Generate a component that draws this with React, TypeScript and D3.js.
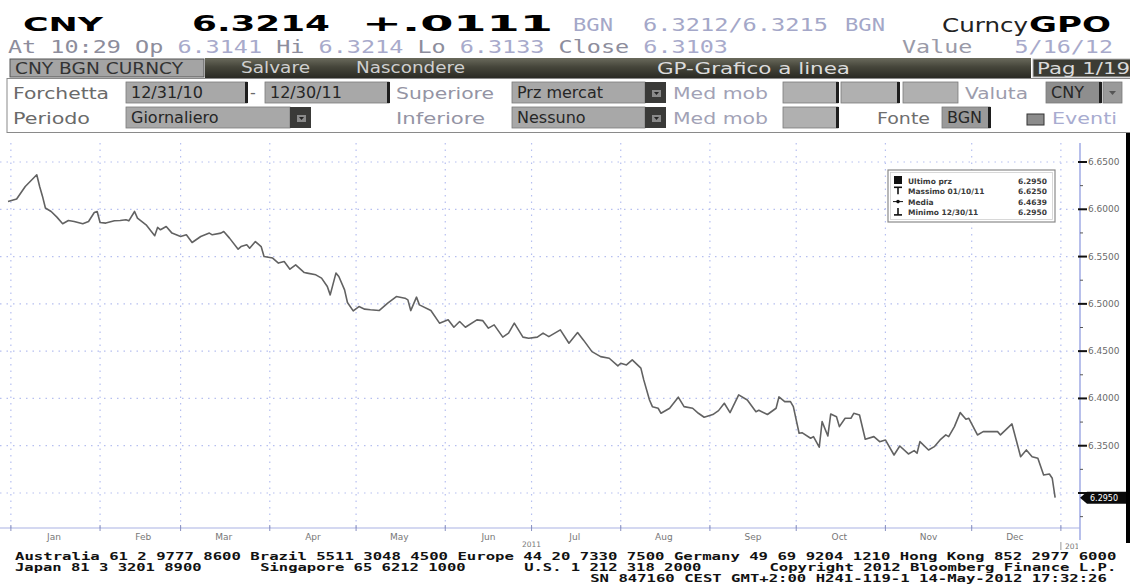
import React from 'react';
import * as d3 from 'd3';

// CNY daily close, 12/31/10 - 12/30/11
const dates = [
  '2010-12-31', '2011-01-03', '2011-01-06', '2011-01-10', '2011-01-11', '2011-01-12', '2011-01-13', '2011-01-15',
  '2011-01-17', '2011-01-19', '2011-01-21', '2011-01-23', '2011-01-26', '2011-01-28', '2011-01-30', '2011-01-31',
  '2011-02-01', '2011-02-03', '2011-02-06', '2011-02-08', '2011-02-10', '2011-02-11', '2011-02-13', '2011-02-14',
  '2011-02-17', '2011-02-20', '2011-02-21', '2011-02-22', '2011-02-24', '2011-02-26', '2011-03-01', '2011-03-03',
  '2011-03-05', '2011-03-08', '2011-03-11', '2011-03-12', '2011-03-15', '2011-03-16', '2011-03-18', '2011-03-21',
  '2011-03-22', '2011-03-24', '2011-03-25', '2011-03-27', '2011-03-29', '2011-03-30', '2011-04-02', '2011-04-04',
  '2011-04-06', '2011-04-08', '2011-04-10', '2011-04-13', '2011-04-14', '2011-04-17', '2011-04-19', '2011-04-21',
  '2011-04-22', '2011-04-24', '2011-04-25', '2011-04-27', '2011-04-28', '2011-04-30', '2011-05-02', '2011-05-04',
  '2011-05-06', '2011-05-09', '2011-05-12', '2011-05-15', '2011-05-18', '2011-05-19', '2011-05-20', '2011-05-22',
  '2011-05-23', '2011-05-27', '2011-05-30', '2011-06-02', '2011-06-04', '2011-06-06', '2011-06-08', '2011-06-12',
  '2011-06-14', '2011-06-16', '2011-06-18', '2011-06-21', '2011-06-23', '2011-06-25', '2011-06-28', '2011-06-30',
  '2011-07-03', '2011-07-05', '2011-07-07', '2011-07-11', '2011-07-14', '2011-07-17', '2011-07-19', '2011-07-22',
  '2011-07-25', '2011-07-28', '2011-07-31', '2011-08-01', '2011-08-03', '2011-08-05', '2011-08-08', '2011-08-09',
  '2011-08-11', '2011-08-12', '2011-08-14', '2011-08-15', '2011-08-18', '2011-08-21', '2011-08-23', '2011-08-26',
  '2011-08-28', '2011-08-30', '2011-09-02', '2011-09-04', '2011-09-06', '2011-09-08', '2011-09-11', '2011-09-14',
  '2011-09-17', '2011-09-18', '2011-09-21', '2011-09-24', '2011-09-25', '2011-09-27', '2011-09-29', '2011-09-30',
  '2011-10-02', '2011-10-03', '2011-10-06', '2011-10-07', '2011-10-09', '2011-10-10', '2011-10-12', '2011-10-13',
  '2011-10-15', '2011-10-16', '2011-10-18', '2011-10-20', '2011-10-21', '2011-10-23', '2011-10-25', '2011-10-28',
  '2011-10-30', '2011-11-01', '2011-11-04', '2011-11-06', '2011-11-09', '2011-11-11', '2011-11-12', '2011-11-13',
  '2011-11-16', '2011-11-18', '2011-11-20', '2011-11-22', '2011-11-23', '2011-11-25', '2011-11-27', '2011-11-29',
  '2011-11-30', '2011-12-03', '2011-12-05', '2011-12-07', '2011-12-10', '2011-12-11', '2011-12-14', '2011-12-15',
  '2011-12-18', '2011-12-20', '2011-12-22', '2011-12-24', '2011-12-26', '2011-12-28', '2011-12-29', '2011-12-30',
];

const prices = [
  6.6083, 6.6108, 6.6241, 6.6365, 6.6241, 6.6136, 6.6013, 6.5977,
  6.5917, 6.5847, 6.5882, 6.5871, 6.5847, 6.5871, 6.5966, 6.5977,
  6.5860, 6.5854, 6.5878, 6.5882, 6.5889, 6.5878, 6.5977, 6.5907,
  6.5836, 6.5720, 6.5808, 6.5783, 6.5818, 6.5748, 6.5712, 6.5730,
  6.5649, 6.5712, 6.5748, 6.5730, 6.5748, 6.5765, 6.5695, 6.5578,
  6.5606, 6.5624, 6.5589, 6.5659, 6.5606, 6.5501, 6.5484, 6.5431,
  6.5448, 6.5367, 6.5413, 6.5331, 6.5325, 6.5307, 6.5272, 6.5183,
  6.5095, 6.5325, 6.5289, 6.5148, 6.5014, 6.4926, 6.4971, 6.4944,
  6.4937, 6.4929, 6.5007, 6.5077, 6.5060, 6.5042, 6.4929, 6.5071,
  6.4989, 6.4929, 6.4796, 6.4831, 6.4753, 6.4813, 6.4753, 6.4831,
  6.4823, 6.4743, 6.4778, 6.4648, 6.4690, 6.4796, 6.4648, 6.4637,
  6.4648, 6.4690, 6.4654, 6.4725, 6.4584, 6.4696, 6.4619, 6.4495,
  6.4442, 6.4425, 6.4344, 6.4372, 6.4354, 6.4407, 6.4320, 6.4196,
  6.3984, 6.3913, 6.3896, 6.3843, 6.3896, 6.4013, 6.3913, 6.3896,
  6.3843, 6.3801, 6.3829, 6.3871, 6.3949, 6.3850, 6.4037, 6.3984,
  6.3860, 6.3875, 6.3830, 6.3896, 6.4016, 6.3966, 6.3966, 6.3913,
  6.3632, 6.3638, 6.3579, 6.3596, 6.3484, 6.3755, 6.3603, 6.3836,
  6.3807, 6.3702, 6.3790, 6.3790, 6.3843, 6.3825, 6.3568, 6.3596,
  6.3543, 6.3561, 6.3402, 6.3497, 6.3413, 6.3448, 6.3420, 6.3543,
  6.3455, 6.3490, 6.3561, 6.3614, 6.3596, 6.3702, 6.3850, 6.3780,
  6.3790, 6.3614, 6.3649, 6.3649, 6.3649, 6.3614, 6.3702, 6.3730,
  6.3384, 6.3455, 6.3384, 6.3367, 6.3190, 6.3201, 6.3156, 6.2950,
];

const monthNames = ['Jan', 'Feb', 'Mar', 'Apr', 'May', 'Jun', 'Jul', 'Aug', 'Sep', 'Oct', 'Nov', 'Dec'];
const yTicks = [6.30, 6.35, 6.40, 6.45, 6.50, 6.55, 6.60, 6.65];
const yMinorTicks = [6.275, 6.325, 6.375, 6.425, 6.475, 6.525, 6.575, 6.625];
const lastPrice = 6.2950;

const legendLabels = ['Ultimo prz', 'Massimo 01/10/11', 'Media', 'Minimo 12/30/11'];
const legendValues = ['6.2950', '6.6250', '6.4639', '6.2950'];

const footerLines = [
  [{ col: 0, text: 'Australia 61 2 9777 8600 Brazil 5511 3048 4500 Europe 44 20 7330 7500 Germany 49 69 9204 1210 Hong Kong 852 2977 6000' }],
  [
    { col: 0, text: 'Japan 81 3 3201 8900' },
    { col: 26, text: 'Singapore 65 6212 1000' },
    { col: 54, text: 'U.S. 1 212 318 2000' },
    { col: 80, text: 'Copyright 2012 Bloomberg Finance L.P.' },
  ],
  [{ col: 61, text: 'SN 847160 CEST GMT+2:00 H241-119-1 14-May-2012 17:32:26' }],
];

const parse = d3.timeParse('%Y-%m-%d');
const PLOT_TOP = 143;
const PLOT_BOTTOM = 528;
const AXIS_X = 1080;

const x = d3.scaleTime().domain([parse('2010-12-31')!, parse('2011-12-31')!]).range([8, 1058]);
const y = d3.scaleLinear().domain([6.30, 6.65]).range([493, 162]);

const SANS = 'DejaVu Sans, sans-serif';
const MONO = 'DejaVu Sans Mono, monospace';

const Box = ({ x0, x1, y0, label, fill = '#a8a8a8', arrow = false, edge = false }:
  { x0: number; x1: number; y0: number; label?: string; fill?: string; arrow?: boolean; edge?: boolean }) => (
  <g>
    <rect x={x0} y={y0} width={x1 - x0} height={21} fill={fill} stroke="#7a7a7a" strokeWidth={0.8} />
    {edge && <rect x={x1 - 2} y={y0} width={3} height={21} fill="#1e1e1e" />}
    {label && (
      <text x={x0 + 5} y={y0 + 16} fontFamily={SANS} fontSize={16} fill="#262626">{label}</text>
    )}
    {arrow && (
      <g>
        <rect x={x1} y={y0} width={21} height={21} fill="#3a3a38" />
        <rect x={x1 + 7} y={y0 + 8} width={9} height={7} fill="#8a8a8a" />
        <path d={`M${x1 + 9},${y0 + 10} L${x1 + 14},${y0 + 10} L${x1 + 11.5},${y0 + 13} Z`} fill="#222" />
      </g>
    )}
  </g>
);

const App = () => {
  const line = d3.line<number>()
    .x((_, i) => x(parse(dates[i])!))
    .y(d => y(d))
    .curve(d3.curveLinear);

  const monthStarts = d3.timeMonth.range(parse('2011-01-01')!, parse('2012-01-02')!);
  const monthMids = monthNames.map((_, i) => new Date(2011, i, 16));
  const fmt = d3.format('.4f');
  const lastY = y(lastPrice);

  return (
    <div style={{ position: 'absolute', left: 0, top: 0 }}>
      <svg width={1130} height={588} style={{ display: 'block', background: '#fff' }}>
        <defs>
          <linearGradient id="tabbar" x1="0" y1="0" x2="0" y2="1">
            <stop offset="0" stopColor="#6a6a5c" />
            <stop offset="0.45" stopColor="#45453a" />
            <stop offset="1" stopColor="#2a2a24" />
          </linearGradient>
          <clipPath id="plotclip">
            <rect x={0} y={0} width={AXIS_X - 2} height={588} />
          </clipPath>
        </defs>

        {/* header line 1 */}
        <text x={23} y={31} fontFamily={SANS} fontWeight="bold" fontSize={20} textLength={80} lengthAdjust="spacingAndGlyphs">CNY</text>
        <text x={192} y={31} fontFamily={SANS} fontWeight="bold" fontSize={21} textLength={138} lengthAdjust="spacingAndGlyphs">6.3214</text>
        <text x={362} y={31} fontFamily={SANS} fontWeight="bold" fontSize={21} textLength={191} lengthAdjust="spacingAndGlyphs">+.0111</text>
        <text x={573} y={31} fontFamily={MONO} fontSize={17} fill="#a4a7c8" textLength={40} lengthAdjust="spacingAndGlyphs">BGN</text>
        <text x={643} y={31} fontFamily={MONO} fontSize={17} fill="#a4a7c8" textLength={185} lengthAdjust="spacingAndGlyphs">6.3212/6.3215</text>
        <text x={845} y={31} fontFamily={MONO} fontSize={17} fill="#a4a7c8" textLength={40} lengthAdjust="spacingAndGlyphs">BGN</text>
        <text x={942} y={32} fontFamily={SANS} fontSize={19} fill="#222" textLength={86} lengthAdjust="spacingAndGlyphs">Curncy</text>
        <text x={1029} y={32} fontFamily={SANS} fontWeight="bold" fontSize={21} textLength={82} lengthAdjust="spacingAndGlyphs">GPO</text>

        {/* header line 2 */}
        <text x={8} y={53} fontFamily={MONO} fontSize={18} textLength={720} lengthAdjust="spacingAndGlyphs">
          <tspan fill="#8d8d9c">At 10:29 Op </tspan>
          <tspan fill="#a8aacb">6.3141 </tspan>
          <tspan fill="#8d8d9c">Hi </tspan>
          <tspan fill="#a8aacb">6.3214 </tspan>
          <tspan fill="#8d8d9c">Lo </tspan>
          <tspan fill="#a8aacb">6.3133 </tspan>
          <tspan fill="#8d8d9c">Close </tspan>
          <tspan fill="#a8aacb">6.3103</tspan>
        </text>
        <text x={902} y={53} fontFamily={MONO} fontSize={18} textLength={211} lengthAdjust="spacingAndGlyphs" xmlSpace="preserve">
          <tspan fill="#9a9aa8">Value   </tspan>
          <tspan fill="#a8aacb">5/16/12</tspan>
        </text>

        {/* tab bar */}
        <rect x={205} y={58} width={826} height={20} fill="url(#tabbar)" />
        <rect x={10} y={59} width={194} height={18} fill="#a4a4a4" stroke="#555" strokeWidth={1} />
        <text x={15} y={74} fontFamily={SANS} fontSize={15} fill="#333" textLength={168} lengthAdjust="spacingAndGlyphs">CNY BGN CURNCY</text>
        <text x={241} y={73} fontFamily={SANS} fontSize={15} fill="#cfcfcf" textLength={69} lengthAdjust="spacingAndGlyphs">Salvare</text>
        <text x={356} y={73} fontFamily={SANS} fontSize={15} fill="#cfcfcf" textLength={109} lengthAdjust="spacingAndGlyphs">Nascondere</text>
        <text x={657} y={74} fontFamily={SANS} fontSize={16} fill="#dcdcdc" textLength={193} lengthAdjust="spacingAndGlyphs">GP-Grafico a linea</text>
        <rect x={1033} y={59} width={100} height={18} fill="#3c3c34" stroke="#b8b8b8" strokeWidth={1} />
        <text x={1037} y={74} fontFamily={SANS} fontSize={16} fill="#dadada" textLength={93} lengthAdjust="spacingAndGlyphs">Pag 1/19</text>

        {/* form */}
        <rect x={7} y={78.5} width={1130} height={54} fill="none" stroke="#8a8a8a" strokeWidth={1} />
        <text x={13} y={99} fontFamily={SANS} fontSize={16} fill="#6a6a6a" textLength={96} lengthAdjust="spacingAndGlyphs">Forchetta</text>
        <Box x0={126} x1={247} y0={82} label="12/31/10" edge />
        <text x={250} y={98} fontFamily={SANS} fontSize={16} fill="#6a6a6a">-</text>
        <Box x0={265} x1={389} y0={82} label="12/30/11" edge />
        <text x={396} y={99} fontFamily={SANS} fontSize={16} fill="#9494a4" textLength={98} lengthAdjust="spacingAndGlyphs">Superiore</text>
        <Box x0={512} x1={645} y0={82} label="Prz mercat" arrow />
        <text x={673} y={99} fontFamily={SANS} fontSize={16} fill="#a2a2b6" textLength={95} lengthAdjust="spacingAndGlyphs">Med mob</text>
        <Box x0={783} x1={838} y0={82} fill="#b0b0b0" edge />
        <Box x0={841} x1={899} y0={82} fill="#b0b0b0" edge />
        <Box x0={903} x1={958} y0={82} fill="#b0b0b0" />
        <text x={965} y={99} fontFamily={SANS} fontSize={16} fill="#9c9cac" textLength={63} lengthAdjust="spacingAndGlyphs">Valuta</text>
        <Box x0={1046} x1={1101} y0={82} label="CNY" fill="#8e8e8e" edge />
        <rect x={1103} y={82} width={19} height={21} fill="#9a9a9a" stroke="#7a7a7a" strokeWidth={0.8} />
        <path d="M1109,91 L1116,91 L1112.5,95 Z" fill="#555" />

        <text x={13} y={124} fontFamily={SANS} fontSize={16} fill="#6a6a6a" textLength={77} lengthAdjust="spacingAndGlyphs">Periodo</text>
        <Box x0={126} x1={290} y0={107} label="Giornaliero" arrow />
        <text x={396} y={124} fontFamily={SANS} fontSize={16} fill="#9494a4" textLength={89} lengthAdjust="spacingAndGlyphs">Inferiore</text>
        <Box x0={512} x1={645} y0={107} label="Nessuno" arrow />
        <text x={673} y={124} fontFamily={SANS} fontSize={16} fill="#a2a2b6" textLength={95} lengthAdjust="spacingAndGlyphs">Med mob</text>
        <Box x0={783} x1={838} y0={107} fill="#b0b0b0" edge />
        <text x={877} y={124} fontFamily={SANS} fontSize={16} fill="#6e6e6e" textLength={53} lengthAdjust="spacingAndGlyphs">Fonte</text>
        <Box x0={942} x1={990} y0={107} label="BGN" fill="#9a9a9a" edge />
        <rect x={1027} y={114} width={17} height={11} fill="#8c8c8c" stroke="#333" strokeWidth={1} />
        <text x={1052} y={124} fontFamily={SANS} fontSize={16} fill="#a8acd0" textLength={65} lengthAdjust="spacingAndGlyphs">Eventi</text>

        {/* right black edge */}
        <rect x={1126} y={133} width={4} height={410} fill="#000" />

        {/* grid */}
        <g stroke="#b6bff0" strokeWidth={1.2} strokeDasharray="1.5 5" fill="none">
          {yTicks.map(t => (
            <line key={`h${t}`} x1={0} x2={AXIS_X} y1={y(t)} y2={y(t)} />
          ))}
          {monthStarts.map(d => (
            <line key={`v${+d}`} x1={x(d)} x2={x(d)} y1={PLOT_TOP} y2={PLOT_BOTTOM} />
          ))}
        </g>

        {/* price line */}
        <path d={line(prices) ?? ''} fill="none" stroke="#626262" strokeWidth={1.6} strokeLinejoin="round" />

        {/* bottom axis */}
        <line x1={0} x2={AXIS_X} y1={PLOT_BOTTOM} y2={PLOT_BOTTOM} stroke="#aab2e4" strokeWidth={1.2} />
        {monthStarts.map(d => (
          <line key={`t${+d}`} x1={x(d)} x2={x(d)} y1={PLOT_BOTTOM - 3} y2={PLOT_BOTTOM + 3} stroke="#8890c0" strokeWidth={1} />
        ))}
        {monthMids.map((d, i) => (
          <text key={monthNames[i]} x={x(d)} y={540} textAnchor="middle" fontFamily={SANS} fontSize={9} fill="#777">
            {monthNames[i]}
          </text>
        ))}
        <text x={x(new Date(2011, 6, 1))} y={547} textAnchor="middle" fontFamily={SANS} fontSize={7.5} fill="#777">2011</text>
        <line x1={x(new Date(2012, 0, 1))} x2={x(new Date(2012, 0, 1))} y1={542} y2={550} stroke="#999" strokeWidth={1} />
        <text x={x(new Date(2012, 0, 1)) + 4} y={549} fontFamily={SANS} fontSize={7.5} fill="#777" clipPath="url(#plotclip)">2012</text>

        {/* right axis */}
        <line x1={AXIS_X} x2={AXIS_X} y1={PLOT_TOP} y2={PLOT_BOTTOM + 12} stroke="#a6b0e6" strokeWidth={1.6} />
        {yMinorTicks.map(t => (
          <line key={`m${t}`} x1={AXIS_X} x2={AXIS_X + 3} y1={y(t)} y2={y(t)} stroke="#555" strokeWidth={1} />
        ))}
        {yTicks.map(t => (
          <g key={`l${t}`}>
            <line x1={AXIS_X - 2} x2={AXIS_X + 7} y1={y(t)} y2={y(t)} stroke="#111" strokeWidth={2} />
            {t !== 6.30 && (
              <text x={AXIS_X + 8} y={y(t) + 3} fontFamily={SANS} fontSize={9} fill="#6a6a6a">{fmt(t)}</text>
            )}
          </g>
        ))}
        <path
          d={`M${AXIS_X},${lastY} L${AXIS_X + 7},${lastY - 6} L1126,${lastY - 6} L1126,${lastY + 6} L${AXIS_X + 7},${lastY + 6} Z`}
          fill="#0a0a0a"
        />
        <text x={AXIS_X + 10} y={lastY + 3} fontFamily={SANS} fontSize={8} fill="#fff">{fmt(lastPrice)}</text>

        {/* legend */}
        <rect x={888} y={170} width={167} height={52} fill="#fff" stroke="#8a8a8a" strokeWidth={1.2} />
        <rect x={890.5} y={172.5} width={162} height={47} fill="none" stroke="#cfcfcf" strokeWidth={0.8} />
        {legendLabels.map((lab, i) => {
          const by = 184 + i * 10.3;
          return (
            <g key={lab}>
              {i === 0 && <rect x={894} y={by - 8} width={8} height={8} fill="#111" />}
              {i === 1 && (
                <g stroke="#111" strokeWidth={1.6}>
                  <line x1={894} x2={902} y1={by - 7} y2={by - 7} />
                  <line x1={898} x2={898} y1={by - 7} y2={by} />
                </g>
              )}
              {i === 2 && (
                <g>
                  <line x1={893} x2={903} y1={by - 3} y2={by - 3} stroke="#111" strokeWidth={1} />
                  <circle cx={898} cy={by - 3} r={1.8} fill="#111" />
                </g>
              )}
              {i === 3 && (
                <g stroke="#111" strokeWidth={1.6}>
                  <line x1={894} x2={902} y1={by} y2={by} />
                  <line x1={898} x2={898} y1={by - 7} y2={by} />
                </g>
              )}
              <text x={908} y={by} fontFamily={SANS} fontSize={7.5} fontWeight="bold" fill="#3a3a3a">{lab}</text>
              <text x={1047} y={by} textAnchor="end" fontFamily={SANS} fontSize={7.5} fontWeight="bold" fill="#3a3a3a">{legendValues[i]}</text>
            </g>
          );
        })}

        {/* footer */}
        {footerLines.map((segs, li) => segs.map(s => (
          <text
            key={`${li}-${s.col}`}
            x={15 + s.col * 9.43}
            y={560 + li * 10.8}
            fontFamily={MONO}
            fontWeight="bold"
            fontSize={11}
            fill="#111"
            textLength={s.text.length * 9.43 - 2}
            lengthAdjust="spacingAndGlyphs"
          >
            {s.text}
          </text>
        )))}
      </svg>
    </div>
  );
};

export default App;
